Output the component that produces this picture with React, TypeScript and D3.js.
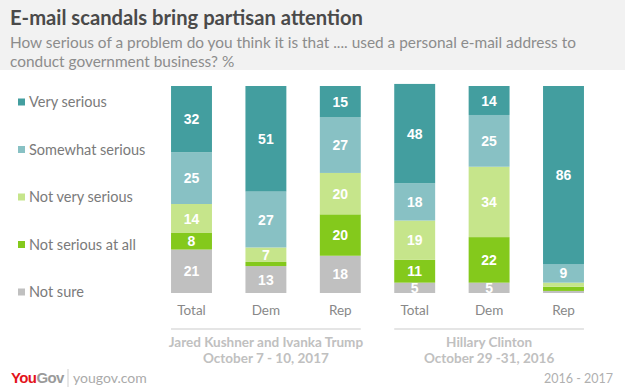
import React, { useRef, useEffect } from 'react';
import * as d3 from 'd3';

// categories, two survey groups of three bars each
const groups = ['Jared  Kushner and Ivanka Trump', 'Hillary Clinton'];
const groupDates = ['October 7 - 10, 2017', 'October 29 -31, 2016'];
const categories = ['Total', 'Dem', 'Rep', 'Total', 'Dem', 'Rep'];

// series values (percent), one entry per bar
const verySerious = [32, 51, 15, 48, 14, 86];
const somewhatSerious = [25, 27, 27, 18, 25, 9];
const notVerySerious = [14, 7, 20, 19, 34, 2];
const notSeriousAtAll = [8, 2, 20, 11, 22, 2];
const notSure = [21, 13, 18, 5, 5, 1];

const seriesNames = ['Very serious', 'Somewhat serious', 'Not very serious', 'Not serious at all', 'Not sure'];
const colors = ['#439e9f', '#88c1c4', '#c6e58b', '#84c91c', '#c0c0c0'];

const W = 625;
const H = 391;

function App() {
  const ref = useRef<SVGSVGElement>(null);

  useEffect(() => {
    const svg = d3.select(ref.current);
    svg.selectAll('*').remove();

    const font = 'Lato, "Open Sans", sans-serif';

    // header band
    svg.append('rect').attr('width', W).attr('height', 70).attr('fill', '#f2f2f2');
    svg.append('text')
      .attr('x', 10).attr('y', 25)
      .attr('font-family', font).attr('font-weight', 700).attr('font-size', 20.2)
      .attr('fill', '#4a4a4a')
      .text('E-mail scandals bring partisan attention');
    const sub = svg.append('text')
      .attr('font-family', font).attr('font-size', 15.4).attr('fill', '#8c8c8c');
    sub.append('tspan').attr('x', 10).attr('y', 48)
      .text('How serious of a problem do you think it is that .... used a personal e-mail address to');
    sub.append('tspan').attr('x', 10).attr('y', 67).text('conduct government business?  %');

    // table built from the arrays
    const ids = categories.map((c, i) => `${c}-${i}`);
    const rows = ids.map((id, i) => ({
      id,
      very: verySerious[i],
      somewhat: somewhatSerious[i],
      notVery: notVerySerious[i],
      notAtAll: notSeriousAtAll[i],
      notSure: notSure[i],
    }));
    const keysTopDown = ['very', 'somewhat', 'notVery', 'notAtAll', 'notSure'];
    const stack = d3.stack<any>().keys([...keysTopDown].reverse());
    const series = stack(rows);

    const x = d3.scaleBand().domain(ids).range([154.3, 600.7]).paddingInner(0.45).paddingOuter(0.225);
    const y = d3.scaleLinear().domain([0, 100]).range([293, 86]);
    const color = d3.scaleOrdinal<string, string>().domain(keysTopDown).range(colors);

    const layer = svg.append('g').selectAll('g')
      .data(series)
      .enter().append('g')
      .attr('fill', (d) => color(d.key));

    layer.selectAll('rect')
      .data((d) => d)
      .enter().append('rect')
      .attr('x', (d) => x(d.data.id)!)
      .attr('width', x.bandwidth())
      .attr('y', (d) => y(d[1]))
      .attr('height', (d) => y(d[0]) - y(d[1]));

    layer.selectAll('text')
      .data((d) => d.filter((v) => v[1] - v[0] >= 5))
      .enter().append('text')
      .attr('x', (d) => x(d.data.id)! + x.bandwidth() / 2)
      .attr('y', (d) => (y(d[0]) + y(d[1])) / 2)
      .attr('dy', '0.36em')
      .attr('text-anchor', 'middle')
      .attr('font-family', '"Liberation Sans", Arial, sans-serif')
      .attr('font-weight', 700)
      .attr('font-size', 14)
      .attr('fill', '#fff')
      .text((d) => d[1] - d[0]);

    // category axis
    const axis = svg.append('g')
      .attr('transform', 'translate(0,305)')
      .call(d3.axisBottom(x).tickSize(0).tickPadding(0).tickFormat((d) => categories[ids.indexOf(d)]));
    axis.select('.domain').remove();
    axis.selectAll('text')
      .attr('font-family', font).attr('font-size', 13.5).attr('fill', '#888');

    // group underlines and labels
    groups.forEach((g, gi) => {
      const first = ids[gi * 3];
      const last = ids[gi * 3 + 2];
      const x0 = x(first)!;
      const x1 = x(last)! + x.bandwidth();
      const cx = (x0 + x1) / 2;
      svg.append('line')
        .attr('x1', x0).attr('x2', x1).attr('y1', 329).attr('y2', 329)
        .attr('stroke', '#dcdcdc').attr('stroke-width', 1.5);
      svg.append('text')
        .attr('x', cx).attr('y', 347).attr('text-anchor', 'middle')
        .attr('font-family', font).attr('font-weight', 700).attr('font-size', 13.5)
        .attr('fill', '#c0c0c0').text(g);
      svg.append('text')
        .attr('x', cx).attr('y', 363).attr('text-anchor', 'middle')
        .attr('font-family', font).attr('font-weight', 700).attr('font-size', 13.5)
        .attr('fill', '#c0c0c0').text(groupDates[gi]);
    });

    // legend
    const legend = svg.append('g').selectAll('g')
      .data(seriesNames)
      .enter().append('g')
      .attr('transform', (d, i) => `translate(18,${102 + i * 47.5})`);
    legend.append('rect')
      .attr('y', -3.5).attr('width', 7).attr('height', 7)
      .attr('fill', (d, i) => colors[i]);
    legend.append('text')
      .attr('x', 11).attr('dy', '0.35em')
      .attr('font-family', font).attr('font-size', 14.5).attr('fill', '#7a7a7a')
      .text((d) => d);

    // footer
    const logo = svg.append('text')
      .attr('x', 11).attr('y', 383)
      .attr('font-family', '"Liberation Sans", Arial, sans-serif')
      .attr('font-weight', 700).attr('font-size', 15).attr('letter-spacing', -0.6);
    logo.append('tspan').attr('fill', '#e3131b').text('You');
    logo.append('tspan').attr('fill', '#9a9a9a').text('Gov');
    svg.append('line')
      .attr('x1', 68).attr('x2', 68).attr('y1', 369).attr('y2', 387)
      .attr('stroke', '#cfcfcf').attr('stroke-width', 1);
    svg.append('text')
      .attr('x', 73).attr('y', 383)
      .attr('font-family', font).attr('font-size', 14).attr('fill', '#aaa')
      .text('yougov.com');
    svg.append('text')
      .attr('x', 613).attr('y', 383).attr('text-anchor', 'end')
      .attr('font-family', font).attr('font-size', 12.5).attr('fill', '#b0b0b0')
      .text('2016 - 2017');
  }, []);

  return (
    <svg
      ref={ref}
      width={W}
      height={H}
      style={{ position: 'absolute', left: 0, top: 0, background: '#fff' }}
    />
  );
}

export default App;
